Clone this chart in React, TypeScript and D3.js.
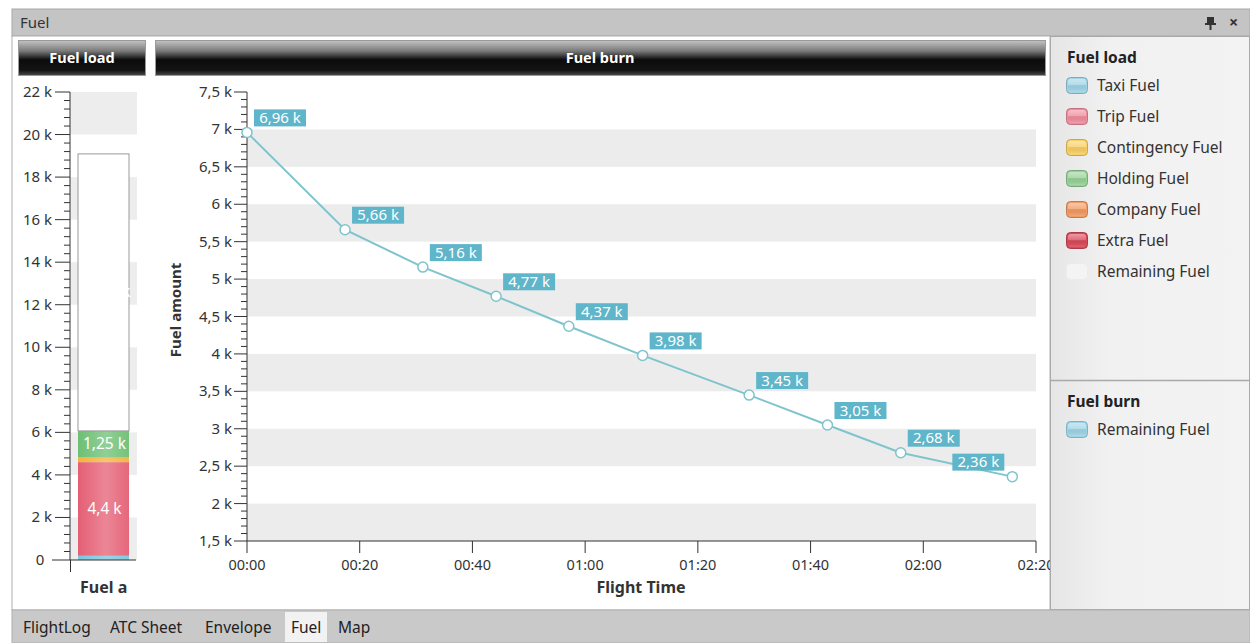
import React from "react";
import * as d3 from "d3";

// ---------- data ----------
const loadCategories = ["Taxi Fuel", "Trip Fuel", "Contingency Fuel", "Holding Fuel", "Company Fuel", "Extra Fuel", "Remaining Fuel"];
const loadValues = [200, 4400, 220, 1250, 0, 0, 13020];
const loadColors = ["#7cc6dd", "#e45f74", "#f3b33d", "#6dbf74", "#ee8f55", "#d9404f", "#ffffff"];
const legendSwatch = ["#9fd4e6", "#f08c9c", "#f8cf63", "#96d196", "#f19a62", "#da4858", "#f4f4f4"];

const flightMinutes = [0, 17.4, 31.2, 44.2, 57.1, 70.2, 89.1, 103, 116, 135.8];
const remainingFuel = [6960, 5660, 5160, 4770, 4370, 3980, 3450, 3050, 2680, 2360];

const loadTicks = [0, 2000, 4000, 6000, 8000, 10000, 12000, 14000, 16000, 18000, 20000, 22000];
const burnTicks = [1500, 2000, 2500, 3000, 3500, 4000, 4500, 5000, 5500, 6000, 6500, 7000, 7500];
const timeTicks = [0, 20, 40, 60, 80, 100, 120, 140];
const tabs = ["FlightLog", "ATC Sheet", "Envelope", "Fuel", "Map"];

const FONT = "'Noto Sans', 'Open Sans', sans-serif";

const kfmt = (v: number) => (v === 0 ? "0" : String(+(v / 1000).toFixed(2)).replace(".", ",") + " k");
const kfmt2 = (v: number) => (v / 1000).toFixed(2).replace(".", ",") + " k";
const tfmt = (m: number) => `${String(Math.floor(m / 60)).padStart(2, "0")}:${String(m % 60).padStart(2, "0")}`;

export default function App() {
  // left chart scales
  const yL = d3.scaleLinear().domain([0, 22000]).range([560, 92]);
  const barX0 = 78, barX1 = 129;
  // main chart scales
  const yM = d3.scaleLinear().domain([1500, 7500]).range([541, 92]);
  const xM = d3.scaleLinear().domain([0, 140]).range([247, 1036]);

  const stack: { cat: string; v0: number; v1: number; color: string; value: number }[] = [];
  let acc = 0;
  loadValues.forEach((v, i) => {
    stack.push({ cat: loadCategories[i], v0: acc, v1: acc + v, color: loadColors[i], value: v });
    acc += v;
  });

  const line = d3.line<number>().x((_, i) => xM(flightMinutes[i])).y((d) => yM(d));

  const minorL: number[] = [];
  for (let v = 0; v <= 22000; v += 400) if (v % 2000 !== 0) minorL.push(v);
  const minorM: number[] = [];
  for (let v = 1500; v <= 7500; v += 100) if (v % 500 !== 0) minorM.push(v);

  const bandsL = [0, 4000, 8000, 12000, 16000, 20000];
  const bandsM = [1500, 2500, 3500, 4500, 5500, 6500];

  const tabX = [23, 110, 205, 291, 338];

  return (
    <svg width={1250} height={643} style={{ position: "absolute", left: 0, top: 0, fontFamily: FONT }}>
      <defs>
        <linearGradient id="hdr" x1="0" y1="0" x2="0" y2="1">
          <stop offset="0" stopColor="#c4c4c4" />
          <stop offset="0.3" stopColor="#7a7a7a" />
          <stop offset="0.55" stopColor="#0c0c0c" />
          <stop offset="0.85" stopColor="#141414" />
          <stop offset="1" stopColor="#4a4a4a" />
        </linearGradient>
        <linearGradient id="legbg" x1="0" y1="0" x2="1" y2="0">
          <stop offset="0" stopColor="#e6e6e6" />
          <stop offset="0.3" stopColor="#f1f1f1" />
          <stop offset="1" stopColor="#f3f3f3" />
        </linearGradient>
        <linearGradient id="barShine" x1="0" y1="0" x2="1" y2="0">
          <stop offset="0" stopColor="#fff" stopOpacity="0" />
          <stop offset="0.55" stopColor="#fff" stopOpacity="0.25" />
          <stop offset="1" stopColor="#fff" stopOpacity="0.05" />
        </linearGradient>
        <linearGradient id="swShine" x1="0" y1="0" x2="0" y2="1">
          <stop offset="0" stopColor="#fff" stopOpacity="0.45" />
          <stop offset="0.45" stopColor="#fff" stopOpacity="0.2" />
          <stop offset="0.55" stopColor="#000" stopOpacity="0.05" />
          <stop offset="1" stopColor="#fff" stopOpacity="0.15" />
        </linearGradient>
      </defs>

      {/* page */}
      <rect x={0} y={0} width={1250} height={643} fill="#ffffff" />
      {/* title bar */}
      <rect x={12} y={9} width={1238} height={27} fill="#c4c4c4" stroke="#a8a8a8" />
      <text x={20} y={28} fontSize={15} fill="#333">Fuel</text>
      <g fill="#333">
        <rect x={1207} y={17} width={7} height={7} />
        <rect x={1205} y={23} width={11} height={2} />
        <rect x={1209.5} y={25} width={2} height={5} />
      </g>
      <text x={1229} y={28} fontSize={16} fill="#333" fontWeight="bold">×</text>

      {/* panel body */}
      <rect x={12} y={36} width={1038} height={574} fill="#ffffff" stroke="#b0b0b0" />

      {/* headers */}
      <rect x={18.5} y={40.5} width={127} height={35} fill="url(#hdr)" stroke="#9a9a9a" />
      <text x={82} y={63} fontSize={14.5} fontWeight="bold" fill="#fff" textAnchor="middle">Fuel load</text>
      <rect x={155.5} y={40.5} width={890} height={35} fill="url(#hdr)" stroke="#9a9a9a" />
      <text x={600} y={63} fontSize={14.5} fontWeight="bold" fill="#fff" textAnchor="middle">Fuel burn</text>

      {/* ---------- left chart ---------- */}
      {bandsL.map((b) => (
        <rect key={b} x={70} y={yL(b + 2000)} width={67} height={yL(b) - yL(b + 2000)} fill="#ededed" />
      ))}
      {stack.filter((s) => s.value > 0).map((s) => (
        <g key={s.cat}>
          <rect x={barX0} y={yL(s.v1)} width={barX1 - barX0} height={yL(s.v0) - yL(s.v1)} fill={s.color}
            stroke={s.cat === "Remaining Fuel" ? "#9a9a9a" : "none"} />
          {s.cat !== "Remaining Fuel" && (
            <rect x={barX0} y={yL(s.v1)} width={barX1 - barX0} height={yL(s.v0) - yL(s.v1)} fill="url(#barShine)" />
          )}
          {s.value >= 1000 && (
            <text x={(barX0 + barX1) / 2 + 1} y={yL((s.v0 + s.v1) / 2) + 5} fontSize={15.5} fill="#fff" textAnchor="middle">
              {kfmt(s.value)}
            </text>
          )}
        </g>
      ))}
      {/* left axis */}
      <line x1={70} y1={92} x2={70} y2={560} stroke="#333" />
      {loadTicks.map((t) => (
        <g key={t}>
          <line x1={t === 0 ? 52 : 55} x2={70} y1={yL(t)} y2={yL(t)} stroke="#333" />
          <text x={t === 0 ? 40 : 52} y={yL(t) + 5} fontSize={15} fill="#333" textAnchor={t === 0 ? "middle" : "end"}>
            {kfmt(t)}
          </text>
        </g>
      ))}
      {minorL.map((t) => (
        <line key={t} x1={64} x2={70} y1={yL(t)} y2={yL(t)} stroke="#333" />
      ))}
      <line x1={70} y1={560} x2={136} y2={560} stroke="#333" />
      <line x1={70.5} y1={560} x2={70.5} y2={572} stroke="#333" />
      <text x={80} y={593} fontSize={16} fontWeight="bold" fill="#333">Fuel a</text>

      {/* ---------- main chart ---------- */}
      {bandsM.map((b) => (
        <rect key={b} x={247} y={yM(b + 500)} width={789} height={yM(b) - yM(b + 500)} fill="#ececec" />
      ))}
      <line x1={247} y1={92} x2={247} y2={541} stroke="#333" />
      {burnTicks.map((t) => (
        <g key={t}>
          <line x1={234} x2={247} y1={yM(t)} y2={yM(t)} stroke="#333" />
          <text x={232} y={yM(t) + 5} fontSize={15} fill="#333" textAnchor="end">{kfmt(t)}</text>
        </g>
      ))}
      {minorM.map((t) => (
        <line key={t} x1={241} x2={247} y1={yM(t)} y2={yM(t)} stroke="#333" />
      ))}
      <line x1={247} y1={541} x2={1036} y2={541} stroke="#333" />
      {timeTicks.map((t) => (
        <g key={t}>
          <line x1={xM(t)} x2={xM(t)} y1={541} y2={553} stroke="#333" />
          <text x={xM(t)} y={570} fontSize={14.5} fill="#333" textAnchor="middle">{tfmt(t)}</text>
        </g>
      ))}
      <text transform={`translate(181,${310}) rotate(-90)`} fontSize={15} fontWeight="bold" fill="#333" textAnchor="middle">
        Fuel amount
      </text>
      <text x={641} y={593} fontSize={16} fontWeight="bold" fill="#333" textAnchor="middle">Flight Time</text>

      <path d={line(remainingFuel) || ""} fill="none" stroke="#7fc4cd" strokeWidth={2} />
      {remainingFuel.map((v, i) => (
        <circle key={i} cx={xM(flightMinutes[i])} cy={yM(v)} r={5} fill="#fff" stroke="#7fc4cd" strokeWidth={1.5} />
      ))}
      {remainingFuel.map((v, i) => {
        const px = xM(flightMinutes[i]);
        const py = yM(v);
        const w = 52;
        const left = px + 8 + w > 1036 ? px - 8 - w : px + 7;
        return (
          <g key={"l" + i}>
            <rect x={left} y={py - 23} width={w} height={17} fill="#5fb5c9" />
            <text x={left + w / 2} y={py - 9.5} fontSize={15} fill="#fff" textAnchor="middle">{kfmt2(v)}</text>
          </g>
        );
      })}

      {/* ---------- legend ---------- */}
      <rect x={1050.5} y={36.5} width={199} height={573} fill="url(#legbg)" stroke="#a9a9a9" />
      <line x1={1050} x2={1250} y1={380.5} y2={380.5} stroke="#a9a9a9" strokeWidth={1.5} />
      <text x={1067} y={63} fontSize={15.5} fontWeight="bold" fill="#222">Fuel load</text>
      {loadCategories.map((c, i) => (
        <g key={c}>
          <rect x={1066.5} y={77.5 + i * 31} width={21} height={16} rx={4} fill={legendSwatch[i]}
            stroke={i === 6 ? "#ececec" : d3.color(legendSwatch[i])!.darker(0.6).toString()} />
          {i !== 6 && <rect x={1068} y={79 + i * 31} width={18} height={13} rx={3} fill="url(#swShine)" />}
          <text x={1097} y={91 + i * 31} fontSize={15.5} fill="#333">{c}</text>
        </g>
      ))}
      <text x={1067} y={407} fontSize={15.5} fontWeight="bold" fill="#222">Fuel burn</text>
      <rect x={1066.5} y={421.5} width={21} height={16} rx={4} fill="#9fd4e6" stroke="#7ab2c6" />
      <rect x={1068} y={423} width={18} height={13} rx={3} fill="url(#swShine)" />
      <text x={1097} y={435} fontSize={15.5} fill="#333">Remaining Fuel</text>

      {/* ---------- bottom tabs ---------- */}
      <rect x={12} y={610} width={1238} height={33} fill="#c9c9c9" stroke="#b0b0b0" />
      <rect x={285} y={612} width={42} height={30} fill="#f2f2f2" />
      {tabs.map((t, i) => (
        <text key={t} x={tabX[i]} y={633} fontSize={15.5} fill="#222">{t}</text>
      ))}
    </svg>
  );
}
